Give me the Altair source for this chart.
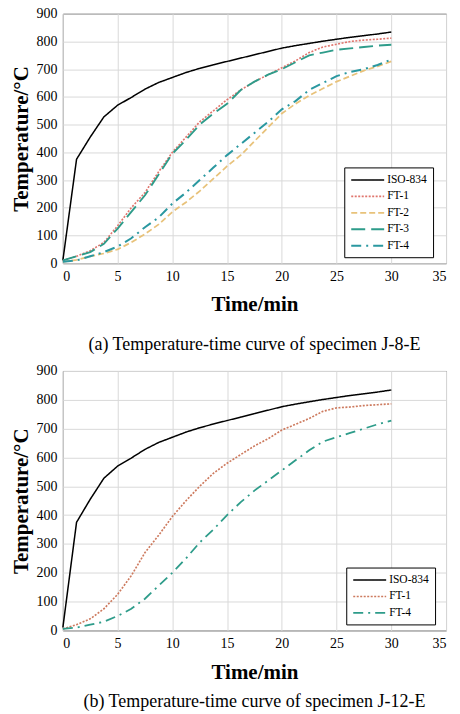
import altair as alt
import pandas as pd

# Time grid (min)
time_min = [0, 1.25, 2.5, 3.75, 5, 6.25, 7.5, 8.75, 10, 11.25, 12.5, 13.75, 15,
            16.25, 17.5, 18.75, 20, 21.25, 22.5, 23.75, 25, 26.25, 27.5, 28.75, 30]

# Standard fire curve
iso_834 = [10, 375, 455, 528, 570, 598, 628, 652, 670, 688, 703, 716, 728,
           740, 752, 764, 776, 785, 793, 801, 808, 815, 821, 827, 834]

# Specimen J-8-E
j8_ft1 = [10, 25, 45, 75, 135, 200, 255, 330, 400, 455, 510, 550, 590,
          625, 655, 680, 705, 730, 760, 780, 790, 800, 805, 808, 812]
j8_ft2 = [5, 12, 25, 35, 50, 75, 105, 140, 185, 220, 260, 305, 350,
          390, 440, 490, 540, 575, 605, 630, 655, 675, 695, 710, 728]
j8_ft3 = [10, 25, 40, 70, 125, 185, 245, 320, 395, 445, 500, 540, 575,
          625, 655, 680, 700, 725, 750, 760, 770, 775, 780, 785, 788]
j8_ft4 = [5, 10, 25, 40, 60, 90, 130, 165, 215, 255, 300, 345, 390,
          430, 470, 510, 555, 585, 625, 650, 675, 690, 700, 715, 735]

# Specimen J-12-E
j12_ft1 = [5, 20, 40, 75, 125, 190, 270, 330, 395, 450, 500, 545, 580,
           610, 640, 665, 695, 715, 735, 760, 772, 775, 780, 783, 786]
j12_ft4 = [5, 10, 20, 30, 50, 75, 110, 155, 200, 250, 305, 350, 400,
           445, 485, 520, 555, 590, 625, 655, 670, 685, 700, 715, 728]

x_ticks = [0, 5, 10, 15, 20, 25, 30, 35]
y_ticks = [0, 100, 200, 300, 400, 500, 600, 700, 800, 900]

SERIF = "Liberation Serif"
# long horizontal stroke used as the legend swatch
LEGEND_LINE = "M-1,0H5"


def panel(series, colors, dashes, widths, caption, height, legend_x, legend_y,
          title_pad, caption_offset):
    names = [n for n, _ in series]
    rows = []
    for name, values in series:
        for t, v in zip(time_min, values):
            rows.append({"series": name, "time": t, "temp": v, "order": names.index(name)})
    df = pd.DataFrame(rows)

    legend = alt.Legend(
        title=None, orient="none", legendX=legend_x, legendY=legend_y,
        symbolType=LEGEND_LINE, symbolSize=121, symbolStrokeWidth=2.2,
        symbolFillColor="transparent",
        labelFont=SERIF, labelFontSize=11.5, labelColor="black",
        strokeColor="black", fillColor="white", padding=6,
        rowPadding=4.5, labelOffset=24,
    )
    axis_style = dict(grid=True, domain=False, ticks=False,
                      labelFont=SERIF, labelFontSize=14, labelColor="black", labelPadding=6,
                      titleFont=SERIF, titleFontSize=21, titleFontWeight="bold",
                      titleColor="black", gridColor="#d9d9d9")
    x = alt.X("time:Q", title="Time/min",
              scale=alt.Scale(domain=[0, 35], nice=False),
              axis=alt.Axis(values=x_ticks, titlePadding=title_pad, **axis_style))
    y = alt.Y("temp:Q", title="Temperature/°C",
              scale=alt.Scale(domain=[0, 900], nice=False),
              axis=alt.Axis(values=y_ticks, **axis_style))
    return alt.Chart(df).mark_line(strokeCap="butt").encode(
        x=x, y=y,
        color=alt.Color("series:N", scale=alt.Scale(domain=names, range=colors), legend=legend),
        strokeDash=alt.StrokeDash("series:N", scale=alt.Scale(domain=names, range=dashes), legend=legend),
        strokeWidth=alt.StrokeWidth("series:N", scale=alt.Scale(domain=names, range=widths), legend=None),
        order="order:Q",
    ).properties(
        width=384, height=height,
        title=alt.TitleParams(caption, orient="bottom", font=SERIF, fontSize=18,
                              fontWeight="normal", color="black", offset=caption_offset),
    )


top = panel(
    [("ISO-834", iso_834), ("FT-1", j8_ft1), ("FT-2", j8_ft2), ("FT-3", j8_ft3), ("FT-4", j8_ft4)],
    ["#000000", "#E0766E", "#E8C27A", "#2E9C8A", "#2A98A0"],
    [[1, 0], [2, 1.5], [6, 3], [14, 6], [10, 5, 2, 5]],
    [1.5, 2, 2.3, 2.6, 2.5],
    "(a) Temperature-time curve of specimen J-8-E", 250, 282, 154, 10, 22,
)
bottom = panel(
    [("ISO-834", iso_834), ("FT-1", j12_ft1), ("FT-4", j12_ft4)],
    ["#000000", "#CD7A5E", "#2E9C8A"],
    [[1, 0], [2, 1.5], [10, 5, 2, 5]],
    [1.5, 1.8, 2.7],
    "(b) Temperature-time curve of specimen J-12-E", 260, 284, 197, 11, 11,
)

chart = alt.vconcat(top, bottom, spacing=8).resolve_scale(
    color="independent", strokeDash="independent", strokeWidth="independent"
).resolve_legend(color="independent", strokeDash="independent").configure_view(
    stroke="#333333", strokeWidth=1
).properties(
    padding={"left": 10, "top": 5, "right": 13, "bottom": 2}, background="white"
)

chart.save("out.html", embed_options={"renderer": "svg", "actions": False})
